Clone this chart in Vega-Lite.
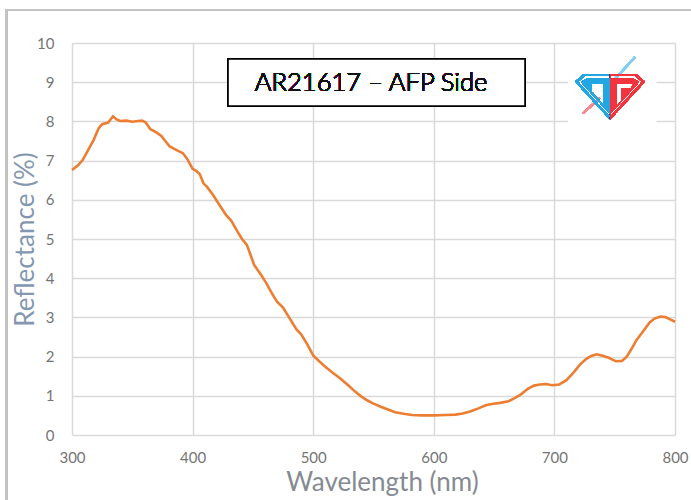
{
  "$schema": "https://vega.github.io/schema/vega-lite/v6.json",
  "width": 603,
  "height": 392,
  "autosize": {"type": "none"},
  "padding": {"left": 72, "top": 43, "right": 16, "bottom": 65},
  "background": "white",
  "config": {"view": {"stroke": null}, "font": "Lato"},
  "data": {"values": [
    {"wavelength": 300, "reflectance": 6.76},
    {"wavelength": 305, "reflectance": 6.88},
    {"wavelength": 309, "reflectance": 7.02},
    {"wavelength": 313, "reflectance": 7.25},
    {"wavelength": 318, "reflectance": 7.53},
    {"wavelength": 322, "reflectance": 7.82},
    {"wavelength": 325, "reflectance": 7.93},
    {"wavelength": 330, "reflectance": 7.97},
    {"wavelength": 334, "reflectance": 8.13},
    {"wavelength": 337, "reflectance": 8.05},
    {"wavelength": 340, "reflectance": 8.01},
    {"wavelength": 345, "reflectance": 8.02},
    {"wavelength": 350, "reflectance": 7.99},
    {"wavelength": 355, "reflectance": 8.01},
    {"wavelength": 358, "reflectance": 8.02},
    {"wavelength": 361, "reflectance": 7.98},
    {"wavelength": 365, "reflectance": 7.8},
    {"wavelength": 370, "reflectance": 7.72},
    {"wavelength": 374, "reflectance": 7.63},
    {"wavelength": 381, "reflectance": 7.36},
    {"wavelength": 388, "reflectance": 7.25},
    {"wavelength": 392, "reflectance": 7.19},
    {"wavelength": 396, "reflectance": 7.02},
    {"wavelength": 400, "reflectance": 6.79},
    {"wavelength": 403, "reflectance": 6.74},
    {"wavelength": 406, "reflectance": 6.65},
    {"wavelength": 409, "reflectance": 6.42},
    {"wavelength": 412, "reflectance": 6.33},
    {"wavelength": 417, "reflectance": 6.12},
    {"wavelength": 422, "reflectance": 5.88},
    {"wavelength": 428, "reflectance": 5.6},
    {"wavelength": 432, "reflectance": 5.47},
    {"wavelength": 437, "reflectance": 5.2},
    {"wavelength": 441, "reflectance": 5.0},
    {"wavelength": 445, "reflectance": 4.85},
    {"wavelength": 448, "reflectance": 4.6},
    {"wavelength": 451, "reflectance": 4.34},
    {"wavelength": 456, "reflectance": 4.12},
    {"wavelength": 461, "reflectance": 3.88},
    {"wavelength": 466, "reflectance": 3.6},
    {"wavelength": 470, "reflectance": 3.4},
    {"wavelength": 475, "reflectance": 3.25},
    {"wavelength": 481, "reflectance": 2.95},
    {"wavelength": 486, "reflectance": 2.7},
    {"wavelength": 490, "reflectance": 2.57},
    {"wavelength": 495, "reflectance": 2.32},
    {"wavelength": 500, "reflectance": 2.03},
    {"wavelength": 505, "reflectance": 1.88},
    {"wavelength": 510, "reflectance": 1.74},
    {"wavelength": 517, "reflectance": 1.57},
    {"wavelength": 523, "reflectance": 1.43},
    {"wavelength": 529, "reflectance": 1.27},
    {"wavelength": 535, "reflectance": 1.1},
    {"wavelength": 540, "reflectance": 0.98},
    {"wavelength": 545, "reflectance": 0.88},
    {"wavelength": 550, "reflectance": 0.8},
    {"wavelength": 556, "reflectance": 0.72},
    {"wavelength": 562, "reflectance": 0.65},
    {"wavelength": 568, "reflectance": 0.58},
    {"wavelength": 575, "reflectance": 0.54},
    {"wavelength": 582, "reflectance": 0.51},
    {"wavelength": 590, "reflectance": 0.5},
    {"wavelength": 600, "reflectance": 0.5},
    {"wavelength": 610, "reflectance": 0.51},
    {"wavelength": 618, "reflectance": 0.52},
    {"wavelength": 624, "reflectance": 0.55},
    {"wavelength": 630, "reflectance": 0.6},
    {"wavelength": 637, "reflectance": 0.68},
    {"wavelength": 643, "reflectance": 0.76},
    {"wavelength": 648, "reflectance": 0.79},
    {"wavelength": 655, "reflectance": 0.82},
    {"wavelength": 662, "reflectance": 0.86},
    {"wavelength": 667, "reflectance": 0.94},
    {"wavelength": 672, "reflectance": 1.03},
    {"wavelength": 678, "reflectance": 1.18},
    {"wavelength": 683, "reflectance": 1.26},
    {"wavelength": 688, "reflectance": 1.29},
    {"wavelength": 693, "reflectance": 1.3},
    {"wavelength": 698, "reflectance": 1.27},
    {"wavelength": 704, "reflectance": 1.29},
    {"wavelength": 710, "reflectance": 1.4},
    {"wavelength": 716, "reflectance": 1.6},
    {"wavelength": 721, "reflectance": 1.79},
    {"wavelength": 726, "reflectance": 1.93},
    {"wavelength": 730, "reflectance": 2.01},
    {"wavelength": 735, "reflectance": 2.06},
    {"wavelength": 740, "reflectance": 2.02},
    {"wavelength": 745, "reflectance": 1.97},
    {"wavelength": 751, "reflectance": 1.88},
    {"wavelength": 756, "reflectance": 1.89},
    {"wavelength": 760, "reflectance": 2.0},
    {"wavelength": 764, "reflectance": 2.2},
    {"wavelength": 768, "reflectance": 2.42},
    {"wavelength": 773, "reflectance": 2.62},
    {"wavelength": 779, "reflectance": 2.87},
    {"wavelength": 783, "reflectance": 2.97},
    {"wavelength": 788, "reflectance": 3.02},
    {"wavelength": 792, "reflectance": 3.01},
    {"wavelength": 796, "reflectance": 2.95},
    {"wavelength": 800, "reflectance": 2.89}
  ]},
  "layer": [
    {
      "mark": {"type": "line", "color": "#ED7D31", "strokeWidth": 2.6},
      "encoding": {
        "x": {
          "field": "wavelength",
          "type": "quantitative",
          "scale": {"domain": [300, 800], "nice": false, "zero": false},
          "axis": {
            "tickCount": 10,
            "tickMinStep": 100,
            "grid": true,
            "gridColor": "#d9d9d9",
            "gridWidth": 1.5,
            "domain": false,
            "ticks": false,
            "labelFlush": false,
            "labelOverlap": false,
            "labelFontSize": 15,
            "labelColor": "#757575",
            "labelPadding": 15,
            "title": "Wavelength (nm)",
            "titleFontSize": 26,
            "titleFontWeight": "normal",
            "titleColor": "#858a92",
            "titleX": 310,
            "titleY": 47,
            "titleBaseline": "middle",
            "titleAlign": "center"
          }
        },
        "y": {
          "field": "reflectance",
          "type": "quantitative",
          "scale": {"domain": [0, 10], "nice": false, "zero": true},
          "axis": {
            "tickCount": 20,
            "tickMinStep": 1,
            "grid": true,
            "gridColor": "#d9d9d9",
            "gridWidth": 1.5,
            "domain": false,
            "ticks": false,
            "labelFlush": false,
            "labelOverlap": false,
            "labelFontSize": 15,
            "labelColor": "#757575",
            "labelPadding": 18,
            "title": "Reflectance (%)",
            "titleFontSize": 26,
            "titleFontWeight": "normal",
            "titleColor": "#8497b0",
            "titleX": -47,
            "titleY": 196,
            "titleAngle": -90,
            "titleBaseline": "middle",
            "titleAlign": "center"
          }
        }
      }
    },
    {
      "mark": {"type": "rect", "fill": "transparent", "stroke": "#c4c4c4", "strokeWidth": 2},
      "encoding": {
        "x": {"datum": 245.3, "type": "quantitative"},
        "x2": {"datum": 900},
        "y": {"datum": 10.84, "type": "quantitative"},
        "y2": {"datum": -3}
      }
    },
    {
      "mark": {"type": "rect", "fill": "white", "stroke": null},
      "encoding": {
        "x": {"datum": 711.3, "type": "quantitative"},
        "x2": {"datum": 784.3},
        "y": {"datum": 9.87, "type": "quantitative"},
        "y2": {"datum": 7.88}
      }
    },
    {
      "mark": {"type": "rect", "fill": "white", "stroke": "#000000", "strokeWidth": 1.5},
      "encoding": {
        "x": {"datum": 429.4, "type": "quantitative"},
        "x2": {"datum": 675.6},
        "y": {"datum": 9.59, "type": "quantitative"},
        "y2": {"datum": 8.39}
      }
    },
    {
      "mark": {"type": "text", "text": "AR21617 – AFP Side", "fontSize": 25.5, "font": "Lato", "fontWeight": 300, "color": "#111111", "align": "center", "baseline": "middle"},
      "encoding": {
        "x": {"datum": 548, "type": "quantitative"},
        "y": {"datum": 8.98, "type": "quantitative"}
      }
    },
    {
      "mark": {"type": "rule", "color": "#86cdf0", "strokeWidth": 2},
      "encoding": {
        "x": {"datum": 766.8, "type": "quantitative"},
        "y": {"datum": 9.64, "type": "quantitative"},
        "x2": {"datum": 749.6},
        "y2": {"datum": 9.06}
      }
    },
    {
      "mark": {"type": "rule", "color": "#f58a90", "strokeWidth": 2},
      "encoding": {
        "x": {"datum": 737.8, "type": "quantitative"},
        "y": {"datum": 8.6, "type": "quantitative"},
        "x2": {"datum": 723.7},
        "y2": {"datum": 8.21}
      }
    },
    {
      "mark": {
        "type": "point",
        "shape": "M-0.76,-0.37L0,-0.37L0,0.94L-1,-0.15Z M-0.72,-0.31L-0.91,-0.15L-0.02,0.84L-0.02,-0.31Z M-0.66,-0.25L-0.02,-0.25L-0.02,0.76L-0.83,-0.14Z M-0.52,-0.1L-0.52,0.13L-0.19,0.51L-0.19,-0.1Z",
        "filled": true,
        "color": "#22a7e2",
        "opacity": 1,
        "size": 4900
      },
      "encoding": {
        "x": {"datum": 746.1, "type": "quantitative"},
        "y": {"datum": 8.88, "type": "quantitative"}
      }
    },
    {
      "mark": {
        "type": "point",
        "shape": "M0,-0.37L0.76,-0.37L1,-0.15L0,0.94Z M0.02,-0.31L0.02,0.84L0.91,-0.15L0.72,-0.31Z M0.02,-0.25L0.66,-0.25L0.83,-0.14L0.02,0.76Z M0.19,-0.1L0.19,0.55L0.33,0.4L0.33,0.03L0.6,0.03L0.68,-0.1Z",
        "filled": true,
        "color": "#f2343f",
        "opacity": 1,
        "size": 4900
      },
      "encoding": {
        "x": {"datum": 746.1, "type": "quantitative"},
        "y": {"datum": 8.88, "type": "quantitative"}
      }
    }
  ]
}
